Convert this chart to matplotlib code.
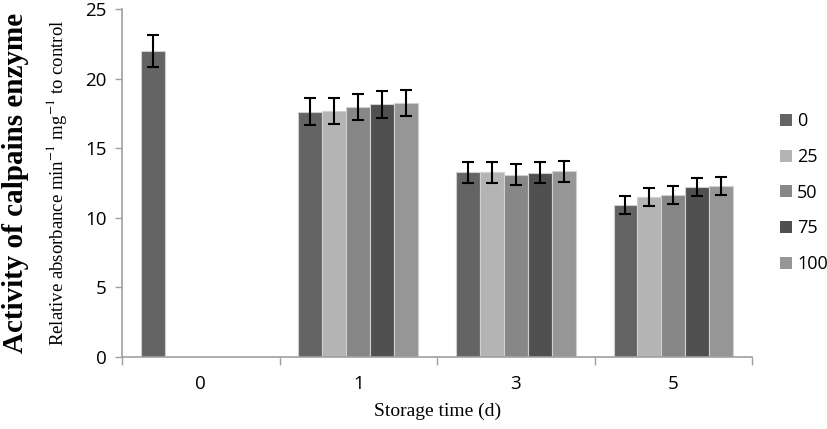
import matplotlib
matplotlib.use("Agg")
import matplotlib.pyplot as plt
import numpy as np

plt.rcParams["mathtext.fontset"] = "stix"

categories = ["0", "1", "3", "5"]
series = ["0", "25", "50", "75", "100"]
values = {
    "0":   [22.0, 17.65, 13.27, 10.96],
    "25":  [0.0, 17.7, 13.27, 11.48],
    "50":  [0.0, 17.97, 13.1, 11.64],
    "75":  [0.0, 18.17, 13.25, 12.22],
    "100": [0.0, 18.27, 13.35, 12.32],
}
errors = {
    "0":   [1.15, 0.95, 0.75, 0.65],
    "25":  [0.0, 0.95, 0.75, 0.65],
    "50":  [0.0, 0.95, 0.75, 0.65],
    "75":  [0.0, 0.95, 0.75, 0.65],
    "100": [0.0, 0.95, 0.75, 0.65],
}
colors = ["#646464", "#b4b4b4", "#878787", "#505050", "#969696"]
yticks = [0, 5, 10, 15, 20, 25]

fig = plt.figure(figsize=(8.27, 4.29), dpi=100)
ax = fig.add_axes([0.1475, 0.168, 0.762, 0.81])

x = np.arange(len(categories))
n = len(series)
group_w = 0.76
bw = group_w / n
for i, s in enumerate(series):
    pos = x - group_w / 2 + bw * (i + 0.5)
    vals = np.array(values[s])
    errs = np.array(errors[s])
    ax.bar(pos, vals, width=bw, color=colors[i], edgecolor="#d0d0d0",
           linewidth=0.8, label=s, zorder=2)
    mask = errs > 0
    ax.errorbar(pos[mask], vals[mask], yerr=errs[mask], fmt="none",
                ecolor="black", elinewidth=1.5, capsize=4, capthick=1.5, zorder=3)

ax.set_xlim(-0.5, len(categories) - 0.5)
ax.set_ylim(0, 25)
ax.set_yticks(yticks)
ax.set_xticks(x)
ax.set_xticklabels(categories)
ax.set_xticks(np.arange(-0.5, len(categories)), minor=True)
ax.tick_params(axis="x", which="major", length=0, pad=13)
ax.tick_params(axis="x", which="minor", length=6, color="#a0a0a0", width=1, direction="out")
ax.tick_params(axis="y", length=5, color="#a0a0a0", width=1, direction="out", pad=6)
for lab in ax.get_xticklabels() + ax.get_yticklabels():
    lab.set_fontfamily("Open Sans")
    lab.set_fontsize(13.5)
for sp in ["top", "right"]:
    ax.spines[sp].set_visible(False)
for sp in ["left", "bottom"]:
    ax.spines[sp].set_color("#a0a0a0")
    ax.spines[sp].set_linewidth(1.2)

ax.set_xlabel("Storage time (d)", fontfamily="Liberation Serif", fontsize=14, labelpad=7)

fig.text(0.019, 0.573, "Activity of calpains enzyme", rotation=90, ha="center", va="center",
         fontfamily="Liberation Serif", fontweight="bold", fontsize=21)
fig.text(0.068, 0.573, r"Relative absorbance min$^{-1}$ mg$^{-1}$ to control", rotation=90,
         ha="center", va="center", fontfamily="Liberation Serif", fontsize=13.5)

leg = ax.legend(loc="upper left", bbox_to_anchor=(0.943, 0.738), bbox_transform=fig.transFigure,
                frameon=False, handlelength=0.65, handleheight=0.65, handletextpad=0.3,
                labelspacing=0.98, borderpad=0, borderaxespad=0,
                prop={"family": "Open Sans", "size": 13})
for h in leg.legend_handles:
    h.set_edgecolor("none")

fig.savefig("out.png", dpi=100)
